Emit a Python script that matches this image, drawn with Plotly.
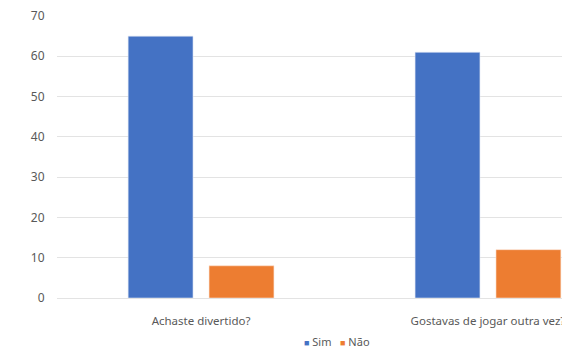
import plotly.graph_objects as go

categories = ["Achaste divertido?", "Gostavas de jogar outra vez?"]
sim = [65, 61]
nao = [8, 12]
y_ticks = [0, 10, 20, 30, 40, 50, 60, 70]
series_names = ["Sim", "Não"]
colors = ["#4472C4", "#ED7D31"]

font = "Noto Sans, Open Sans, Liberation Sans, sans-serif"

fig = go.Figure()
fig.add_trace(go.Bar(name=series_names[0], x=categories, y=sim,
                     marker=dict(color=colors[0], line=dict(color="#dfe6f5", width=0.6))))
fig.add_trace(go.Bar(name=series_names[1], x=categories, y=nao,
                     marker=dict(color=colors[1], line=dict(color="#fbe3d3", width=0.6))))

legend_text = "   ".join(
    f"<span style='color:{c};font-size:9px'>■</span> {n}" for n, c in zip(series_names, colors)
)

fig.update_layout(
    width=562, height=349,
    margin=dict(l=57, r=0, t=16, b=51, autoexpand=False),
    paper_bgcolor="white", plot_bgcolor="white",
    barmode="group", bargap=0.436, bargroupgap=0.198,
    font=dict(family=font, size=11, color="#595959"),
    showlegend=False,
    annotations=[dict(text=legend_text, xref="paper", yref="paper",
                      x=(302 - 57) / 505, y=-(341 - 298) / 282,
                      xanchor="left", yanchor="middle", showarrow=False,
                      font=dict(size=11, color="#595959"))],
)
fig.update_xaxes(range=[-0.502, 1.258], showgrid=False, showline=False, zeroline=False,
                 ticks="outside", ticklen=12, tickcolor="rgba(0,0,0,0)",
                 tickfont=dict(size=11.5, color="#595959"), automargin=False)
fig.update_yaxes(range=[0, 70], tickvals=y_ticks, showgrid=True, gridcolor="#E3E3E3", gridwidth=1,
                 zeroline=True, zerolinecolor="#E3E3E3", zerolinewidth=1, showline=False,
                 ticks="outside", ticklen=9, tickcolor="rgba(0,0,0,0)",
                 tickfont=dict(size=12, color="#595959"), automargin=False)

fig.write_html("out.html")
